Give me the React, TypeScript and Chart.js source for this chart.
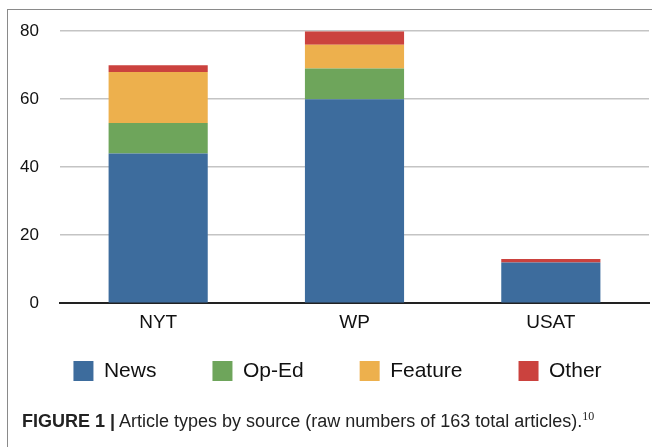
import React, { useEffect, useRef } from "react";
import { Chart, registerables } from "chart.js";

Chart.register(...registerables);

const categories = ["NYT", "WP", "USAT"];
const newsValues = [44, 60, 12];
const opEdValues = [9, 9, 0];
const featureValues = [15, 7, 0];
const otherValues = [2, 4, 1];
const yTickValues = [0, 20, 40, 60, 80];

const FONT = "'Liberation Sans', Arial, Helvetica, sans-serif";
const LEGEND_FONT = 21;
const LEGEND_PAD = 56;
const LEGEND_CENTER_Y = 371;
const LEGEND_SHIFT_X = 13;

const legendShift = {
  id: "legendShift",
  afterLayout(chart: any) {
    const lg = chart.legend;
    if (!lg) return;
    const h = lg.height;
    const top = LEGEND_CENTER_Y - LEGEND_FONT / 2 - LEGEND_PAD;
    lg.top = top;
    lg.bottom = top + h;
    lg.left += LEGEND_SHIFT_X;
    lg.right += LEGEND_SHIFT_X;
  },
};

export default function App() {
  const ref = useRef<HTMLCanvasElement | null>(null);

  useEffect(() => {
    if (!ref.current) return;
    const chart = new Chart(ref.current, {
      type: "bar",
      data: {
        labels: categories,
        datasets: [
          { label: "News", data: newsValues, backgroundColor: "#3d6c9d" },
          { label: "Op-Ed", data: opEdValues, backgroundColor: "#6ea55b" },
          { label: "Feature", data: featureValues, backgroundColor: "#edb04d" },
          { label: "Other", data: otherValues, backgroundColor: "#cb423e" },
        ],
      },
      plugins: [legendShift],
      options: {
        responsive: false,
        animation: false,
        devicePixelRatio: 1,
        layout: { padding: { left: 0, right: 3, top: 19, bottom: 18 } },
        datasets: { bar: { categoryPercentage: 1, barPercentage: 0.505, borderWidth: 0 } },
        scales: {
          x: {
            stacked: true,
            grid: { display: false, drawTicks: false },
            border: { display: true, color: "#222", width: 2 },
            ticks: { font: { family: FONT, size: 19 }, color: "#111", padding: 8 },
          },
          y: {
            stacked: true,
            min: 0,
            max: 80,
            afterBuildTicks: (s: any) => { s.ticks = yTickValues.map((v) => ({ value: v })); },
            grid: { color: "#c4c4c4", lineWidth: 1.5, drawTicks: false },
            border: { display: false },
            ticks: { font: { family: FONT, size: 17 }, color: "#111", padding: 21 },
            afterFit: (s: any) => { s.width = 60; },
          },
        },
        plugins: {
          tooltip: { enabled: false },
          legend: {
            position: "bottom",
            labels: {
              boxWidth: 20,
              boxHeight: 20,
              padding: LEGEND_PAD,
              color: "#111",
              font: { family: FONT, size: LEGEND_FONT },
            },
          },
        },
      },
    });
    return () => chart.destroy();
  }, []);

  return (
    <div style={{ position: "fixed", left: 0, top: 0, width: 652, height: 447, background: "#fff", overflow: "hidden" }}>
      <div style={{ position: "absolute", left: 7, top: 9, width: 645, height: 438, borderLeft: "1.5px solid #8a8a8a", borderTop: "1.5px solid #8a8a8a" }} />
      <canvas ref={ref} width={652} height={447} style={{ position: "absolute", left: 0, top: 0, width: 652, height: 447 }} />
      <div style={{ position: "absolute", left: 22, top: 404, fontFamily: FONT, fontSize: 18, color: "#222", whiteSpace: "nowrap", lineHeight: "24px" }}>
        <span style={{ fontWeight: "bold" }}>FIGURE 1 |</span> Article types by source (raw numbers of 163 total articles).
        <sup style={{ fontFamily: "'Liberation Serif', serif", fontSize: 12 }}>10</sup>
      </div>
    </div>
  );
}
